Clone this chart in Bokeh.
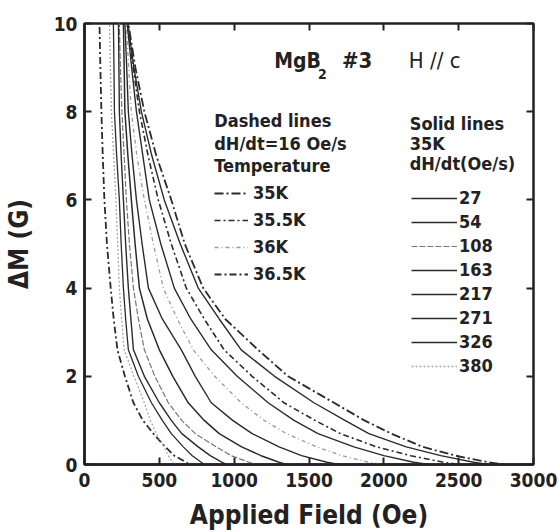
from bokeh.plotting import figure
from bokeh.models import Range1d, LinearAxis, Label, Legend, LegendItem, FixedTicker
from bokeh.embed import file_html
from bokeh.resources import INLINE

FONT = "DejaVu Sans Condensed"

# Delta M levels (G) at which each curve's field (Oe) was read
dM_levels = [10.6, 10, 9, 8, 7, 6, 5, 4, 3.3, 2.6, 2, 1.4, 1.0, 0.7, 0.4, 0.2, 0.05, 0.0]

# Dashed lines: dH/dt = 16 Oe/s, temperatures
T_labels = ["35K", "35.5K", "36K", "36.5K"]
H_35K   = [285, 293, 340, 400, 480, 580, 670, 793, 940, 1160, 1360, 1667, 1870, 2050, 2260, 2480, 2700, 2800]
H_35p5K = [282, 288, 325, 367, 425, 493, 580, 680, 800, 933, 1120, 1333, 1540, 1710, 1950, 2180, 2400, 2500]
H_36K   = [276, 280, 295, 313, 350, 400, 460, 527, 620, 727, 870, 1047, 1200, 1350, 1550, 1720, 1900, 2000]
H_36p5K = [97, 100, 106, 113, 122, 133, 150, 175, 195, 220, 270, 327, 390, 460, 540, 600, 680, 700]

# Solid lines: 35K, sweep rates (Oe/s)
rate_labels = ["27", "54", "108", "163", "217", "271", "326", "380"]
H_r27  = [284, 290, 330, 380, 450, 533, 640, 760, 900, 1047, 1270, 1533, 1740, 1900, 2150, 2380, 2600, 2700]
H_r54  = [280, 285, 315, 347, 390, 433, 510, 600, 710, 847, 1020, 1227, 1400, 1560, 1800, 2000, 2200, 2300]
H_r108 = [230, 233, 240, 250, 265, 280, 300, 327, 360, 400, 470, 560, 650, 740, 880, 980, 1100, 1150]
H_r163 = [267, 270, 282, 293, 318, 347, 385, 427, 520, 647, 740, 847, 990, 1120, 1300, 1450, 1620, 1700]
H_r217 = [257, 260, 265, 270, 290, 313, 338, 367, 420, 500, 590, 693, 800, 900, 1050, 1180, 1300, 1350]
H_r271 = [225, 227, 230, 233, 245, 260, 275, 293, 310, 327, 400, 500, 580, 650, 760, 840, 920, 950]
H_r326 = [191, 193, 197, 200, 215, 233, 245, 260, 275, 293, 360, 447, 520, 580, 660, 720, 780, 800]
H_r380 = [165, 167, 173, 180, 195, 210, 222, 233, 248, 265, 330, 400, 440, 480, 530, 560, 590, 600]

x_ticks = [0, 500, 1000, 1500, 2000, 2500, 3000]
y_ticks = [0, 2, 4, 6, 8, 10]

p = figure(width=558, height=532, x_range=Range1d(0, 3000), y_range=Range1d(0, 10),
           output_backend="svg", toolbar_location=None,
           min_border_left=83, min_border_right=25, min_border_top=23, min_border_bottom=68)
p.grid.visible = False
p.outline_line_color = "#222222"
p.outline_line_width = 2.5

for ax in (p.xaxis[0], p.yaxis[0]):
    ax.major_tick_in = 7
    ax.major_tick_out = 0
    ax.minor_tick_line_color = None
    ax.axis_line_width = 2.5
    ax.axis_line_color = "#222222"
    ax.major_tick_line_width = 2
    ax.major_tick_line_color = "#222222"
    ax.major_label_text_font = FONT
    ax.major_label_text_font_style = "bold"
    ax.major_label_text_font_size = "19px"
    ax.major_label_text_color = "#222222"
    ax.axis_label_text_font = FONT
    ax.axis_label_text_font_style = "bold"
    ax.axis_label_text_font_size = "26px"
    ax.axis_label_text_color = "#222222"
p.xaxis.ticker = FixedTicker(ticks=x_ticks)
p.yaxis.ticker = FixedTicker(ticks=y_ticks)
p.xaxis.axis_label = "Applied Field (Oe)"
p.yaxis.axis_label = "ΔM (G)"
p.xaxis.major_label_standoff = 8
p.yaxis.major_label_standoff = 7
p.xaxis.axis_label_standoff = 10
p.yaxis.axis_label_standoff = 17

for side, tk in (("above", x_ticks), ("right", y_ticks)):
    a = LinearAxis(ticker=FixedTicker(ticks=tk), major_label_text_font_size="0px",
                   major_tick_in=7, major_tick_out=0, axis_line_color=None,
                   minor_tick_line_color=None, major_tick_line_width=2,
                   major_tick_line_color="#222222")
    p.add_layout(a, side)

dark = "#2b2b2b"
styles = {
    "35K":   dict(line_color=dark, line_width=1.8, line_dash="9 3 2 3"),
    "35.5K": dict(line_color=dark, line_width=1.6, line_dash="6 3 2 3"),
    "36K":   dict(line_color="#9a9a9a", line_width=1.3, line_dash="4 3 1 3"),
    "36.5K": dict(line_color=dark, line_width=1.8, line_dash="7 3 2 3"),
    "27":  dict(line_color=dark, line_width=1.4),
    "54":  dict(line_color=dark, line_width=1.4),
    "108": dict(line_color="#777777", line_width=1.2, line_dash="6 2"),
    "163": dict(line_color=dark, line_width=1.4),
    "217": dict(line_color=dark, line_width=1.5),
    "271": dict(line_color=dark, line_width=1.4),
    "326": dict(line_color=dark, line_width=1.3),
    "380": dict(line_color="#a8a8a8", line_width=1.3, line_dash="2 2"),
}

dashed_series = [H_35K, H_35p5K, H_36K, H_36p5K]
solid_series = [H_r27, H_r54, H_r108, H_r163, H_r217, H_r271, H_r326, H_r380]

left_items, right_items = [], []
for lab, H in zip(T_labels, dashed_series):
    r = p.line(H, dM_levels, **styles[lab])
    left_items.append(LegendItem(label=lab, renderers=[r]))
for lab, H in zip(rate_labels, solid_series):
    r = p.line(H, dM_levels, **styles[lab])
    right_items.append(LegendItem(label=lab, renderers=[r]))

def legend(items, loc, gw, standoff, spacing):
    return Legend(items=items, location=loc, glyph_width=gw, glyph_height=20,
                  label_height=20, label_standoff=standoff, spacing=spacing,
                  padding=0, margin=0, border_line_color=None,
                  background_fill_alpha=0, label_text_font=FONT,
                  label_text_font_style="bold", label_text_font_size="18px",
                  label_text_color="#222222")

p.add_layout(legend(left_items, (130, 180), 34, 5, 6))
p.add_layout(legend(right_items, (327, 88), 46, 2, 3))

def txt(x, y, s, size, style="bold"):
    p.add_layout(Label(x=x, y=y, text=s, text_font=FONT, text_font_size=size,
                       text_font_style=style, text_baseline="middle",
                       text_color="#222222"))

txt(1267, 9.16, "MgB", "21px")
txt(1560, 8.85, "2", "14px")
txt(1720, 9.16, "#3", "22px")
txt(2167, 9.16, "H // c", "22px", "normal")
txt(867, 7.80, "Dashed lines", "18px")
txt(867, 7.28, "dH/dt=16 Oe/s", "18px")
txt(867, 6.78, "Temperature", "18px")
txt(2173, 7.73, "Solid lines", "18px")
txt(2173, 7.28, "35K", "18px")
txt(2173, 6.83, "dH/dt(Oe/s)", "18px")

open("out.html", "w").write(file_html(p, INLINE))
